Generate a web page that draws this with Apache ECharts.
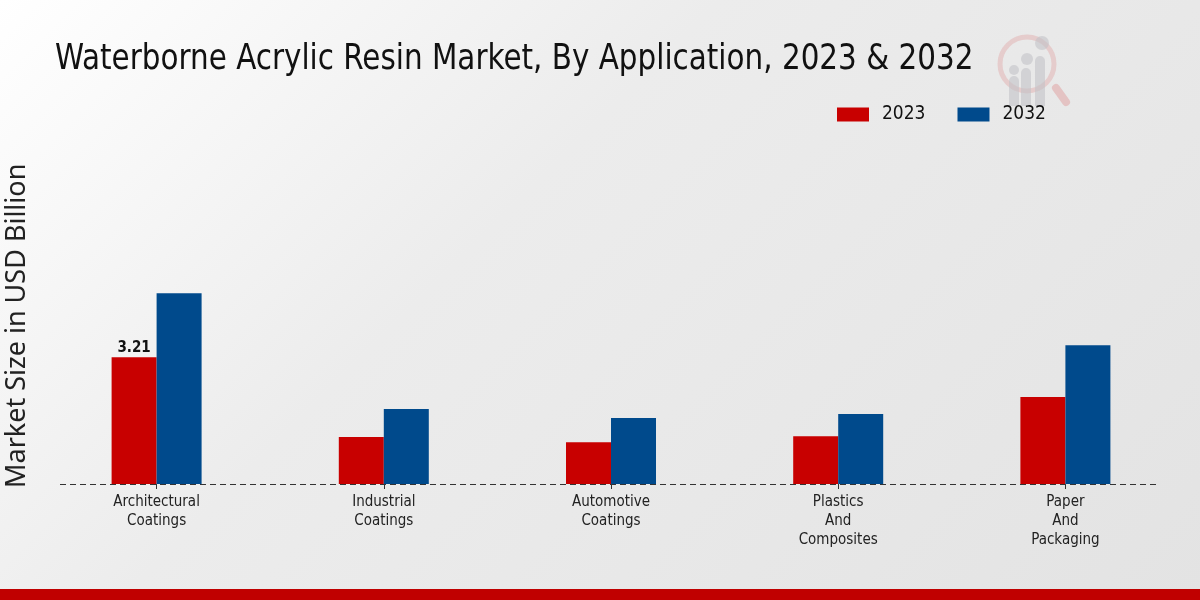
<!DOCTYPE html>
<html>
<head>
<meta charset="utf-8">
<script src="https://cdn.jsdelivr.net/npm/echarts@6/dist/echarts.min.js"></script>
<style>
html,body{margin:0;padding:0;}
#c{width:1200px;height:600px;background:linear-gradient(135deg,#ffffff 0%,#ececec 40%,#e3e3e3 100%);}
</style>
</head>
<body>
<div id="c"></div>
<script>
const categories = ['Architectural\nCoatings', 'Industrial\nCoatings', 'Automotive\nCoatings', 'Plastics\nAnd\nComposites', 'Paper\nAnd\nPackaging'];
const values2023 = [3.21, 1.19, 1.06, 1.21, 2.20];
const values2032 = [4.83, 1.90, 1.67, 1.77, 3.51];
const seriesNames = ['2023', '2032'];
const titleText = 'Waterborne Acrylic Resin Market, By Application, 2023 & 2032';
const yAxisTitle = 'Market Size in USD Billion';

const FONT = '"DejaVu Sans Condensed","Liberation Sans Narrow","DejaVu Sans",sans-serif';
const chart = echarts.init(document.getElementById('c'), null, {renderer: 'canvas'});

const data2023 = values2023.map((v, i) => i === 0 ? {
  value: v,
  label: {show: true, position: 'top', fontWeight: 'bold', fontSize: 15, color: '#111', fontFamily: FONT, distance: 2}
} : v);

chart.setOption({
  backgroundColor: 'transparent',
  legend: {
    data: seriesNames,
    top: 100, left: 832,
    itemWidth: 32, itemHeight: 14, itemGap: 32,
    textStyle: {fontFamily: FONT, fontSize: 19, color: '#111', padding: [0, 0, 0, 8]},
    icon: 'rect'
  },
  grid: {left: 43, right: 21, top: 247, bottom: 116, containLabel: false},
  xAxis: {
    type: 'category',
    data: categories,
    axisLine: {show: false},
    axisTick: {show: true, alignWithLabel: true, length: 5, lineStyle: {color: '#333'}},
    axisLabel: {fontFamily: FONT, fontSize: 15, color: '#222', lineHeight: 19, margin: 9, interval: 0}
  },
  yAxis: {
    type: 'value', min: 0, max: 6,
    show: false,
    splitLine: {show: false}
  },
  series: [
    {name: seriesNames[0], type: 'bar', data: data2023, barWidth: 45, barGap: '0%',
     itemStyle: {color: '#c80000'}},
    {name: seriesNames[1], type: 'bar', data: values2032, barWidth: 45,
     itemStyle: {color: '#004a8c'}}
  ],
  graphic: [
    {type: 'text', x: 55, y: 42, scaleX: 0.935, z: 10,
     style: {text: titleText, font: '35px "DejaVu Sans Condensed","Liberation Sans Narrow",sans-serif', fill: '#111'}},
    {type: 'line', shape: {x1: 60, y1: 484.5, x2: 1160, y2: 484.5}, z: 10,
     style: {stroke: '#333', lineWidth: 1, lineDash: [6, 4]}},
    {type: 'text', rotation: Math.PI / 2, z: 10,
     x: 4, y: 488,
     style: {text: yAxisTitle, font: '27px "Noto Sans","Open Sans",sans-serif', fill: '#222'}},
    {type: 'rect', shape: {x: 0, y: 589, width: 1200, height: 11}, style: {fill: '#c00000'}, z: 1},
    {type: 'group', z: 0, children: [
      {type: 'line', shape: {x1: 1056, y1: 88, x2: 1066, y2: 102}, style: {stroke: 'rgba(225,170,170,0.6)', lineWidth: 8, lineCap: 'round'}},
      {type: 'circle', shape: {cx: 1027, cy: 64, r: 27}, style: {fill: 'none', stroke: 'rgba(225,180,180,0.55)', lineWidth: 5}},
      {type: 'rect', shape: {x: 1009, y: 76, width: 10, height: 30, r: [5, 5, 0, 0]}, style: {fill: 'rgba(195,195,200,0.6)'}},
      {type: 'rect', shape: {x: 1021, y: 68, width: 10, height: 38, r: [5, 5, 0, 0]}, style: {fill: 'rgba(195,195,200,0.6)'}},
      {type: 'rect', shape: {x: 1035, y: 56, width: 10, height: 50, r: [5, 5, 0, 0]}, style: {fill: 'rgba(195,195,200,0.6)'}},
      {type: 'circle', shape: {cx: 1014, cy: 70, r: 5}, style: {fill: 'rgba(195,195,200,0.6)'}},
      {type: 'circle', shape: {cx: 1027, cy: 59, r: 6}, style: {fill: 'rgba(195,195,200,0.6)'}},
      {type: 'circle', shape: {cx: 1042, cy: 43, r: 7}, style: {fill: 'rgba(195,195,200,0.6)'}}
    ]}
  ]
});
</script>
</body>
</html>
